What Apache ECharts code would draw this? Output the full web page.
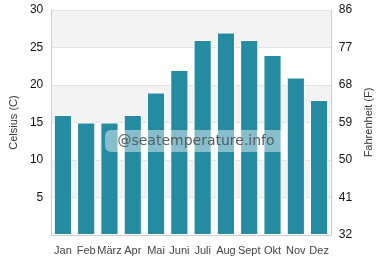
<!DOCTYPE html>
<html><head><meta charset="utf-8">
<script src="https://cdn.jsdelivr.net/npm/echarts@6/dist/echarts.min.js"></script>
<style>html,body{margin:0;padding:0;background:#fff}#c{width:382px;height:280px}</style>
</head><body><div id="c"></div>
<script>
const categories = ['Jan','Feb','März','Apr','Mai','Juni','Juli','Aug','Sept','Okt','Nov','Dez'];
const celsius = [16,15,15,16,19,22,26,27,26,24,21,18];
const fahrenheitTicks = [32,41,50,59,68,77,86];

const chart = echarts.init(document.getElementById('c'));
const font = 'Liberation Sans, Arial, sans-serif';
chart.setOption({
  animation: false,
  textStyle: { fontFamily: font },
  grid: { left: 40, right: 40, top: 10, bottom: 45 },
  xAxis: {
    type: 'category', data: categories,
    axisLine: { lineStyle: { color: '#ccc' } },
    axisTick: { show: false },
    axisLabel: { color: '#444', fontSize: 11, margin: 10, fontFamily: font, interval: 0 }
  },
  yAxis: [{
    type: 'value', min: 0, max: 30, interval: 5,
    name: 'Celsius (C)', nameLocation: 'middle', nameGap: 31, nameRotate: 90,
    nameTextStyle: { color: '#333', fontSize: 11, fontFamily: font },
    axisLine: { show: true, lineStyle: { color: '#ccc' } },
    axisTick: { show: false },
    axisLabel: { color: '#111', fontSize: 12, fontFamily: font, margin: 8,
      formatter: v => v === 0 ? '' : v },
    splitLine: { lineStyle: { color: '#e2e2e2' } },
    splitArea: { show: true, areaStyle: { color: ['#ffffff', '#f3f3f3'] } }
  }, {
    type: 'value', min: 0, max: 30, interval: 5,
    name: 'Fahrenheit (F)', nameLocation: 'middle', nameGap: 32, nameRotate: 90,
    nameTextStyle: { color: '#333', fontSize: 11, fontFamily: font },
    axisLine: { show: true, lineStyle: { color: '#ccc' } },
    axisTick: { show: false },
    axisLabel: { color: '#111', fontSize: 12, fontFamily: font, margin: 8,
      formatter: v => fahrenheitTicks[Math.round(v / 5)] },
    splitLine: { show: false }
  }],
  series: [{
    type: 'bar', data: celsius, barWidth: '78%',
    itemStyle: { color: '#248ba1', borderColor: '#fff', borderWidth: 1 }
  }],
  graphic: [{
    type: 'group', left: 105, top: 130, z: 100,
    children: [{
      type: 'rect', z: 100, shape: { x: 0, y: 0, width: 182, height: 22, r: 6 },
      style: { fill: 'rgba(255,255,255,0.45)' }
    }, {
      type: 'text', z: 101, x: 91, y: 11,
      style: { text: '@seatemperature.info', fill: '#555a5e', font: '14px DejaVu Sans, sans-serif',
        textAlign: 'center', textVerticalAlign: 'middle' }
    }]
  }]
});
</script></body></html>
